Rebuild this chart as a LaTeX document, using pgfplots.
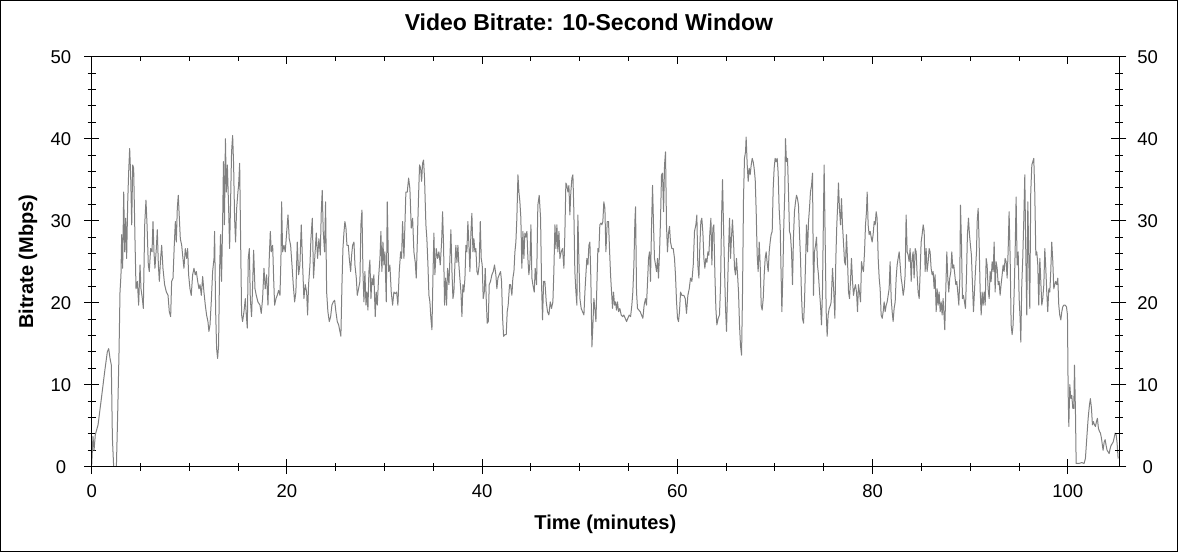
\documentclass[border=0pt]{standalone}
\usepackage{pgfplots}
\pgfplotsset{compat=1.18}
\usepackage{pgfplotstable}
\usepackage{fontspec}
\setmainfont{Liberation Sans}
\definecolor{linegray}{RGB}{128,128,128}
\pgfplotstableread{
t v
0 0.2
0.13 3.7
0.24 2.0
0.37 3.9
0.65 5.1
0.99 8.3
1.33 11.6
1.6 14.0
1.74 14.4
1.88 13.2
2.01 12.4
2.12 3.5
2.25 0
2.53 0
2.66 6.3
2.8 14.0
2.9 21.3
3.0 23.4
3.07 28.3
3.17 24.2
3.28 33.5
3.38 26.2
3.48 30.3
3.58 25.4
3.69 32.3
3.79 36.0
3.89 38.8
3.99 35.6
4.1 29.5
4.2 36.8
4.3 36.4
4.44 27.4
4.54 21.7
4.68 22.6
4.81 19.7
4.95 24.6
5.05 21.7
5.19 20.5
5.29 19.3
5.43 29.5
5.56 32.5
5.67 29.5
5.8 24.6
5.9 23.8
6.04 26.6
6.18 26.2
6.28 29.9
6.38 26.2
6.48 24.2
6.62 26.6
6.72 28.9
6.83 24.6
6.93 22.6
7.06 25.4
7.17 27.0
7.3 24.2
7.47 22.2
7.65 21.3
7.82 20.9
7.95 18.9
8.09 18.3
8.19 22.6
8.33 23.0
8.46 27.0
8.57 29.9
8.67 27.4
8.77 31.5
8.87 33.1
8.98 30.3
9.08 27.8
9.22 27.0
9.35 25.4
9.45 24.2
9.59 26.6
9.73 25.4
9.83 26.6
9.93 23.4
10.07 21.7
10.2 20.9
10.34 23.4
10.48 24.2
10.61 23.4
10.72 23.8
10.86 22.6
10.99 21.7
11.1 22.2
11.23 20.9
11.37 23.2
11.5 21.3
11.64 19.7
11.77 18.5
11.91 17.7
12.01 16.5
12.12 17.3
12.25 20.1
12.39 23.8
12.53 25.4
12.59 28.7
12.7 18.9
12.8 14.4
12.9 13.2
13.0 14.8
13.1 23.8
13.2 28.3
13.3 22.6
13.4 28.7
13.5 37.2
13.6 29.5
13.7 40.0
13.8 33.5
13.9 36.8
14.03 31.5
14.13 26.6
14.23 32.3
14.33 38.4
14.44 40.4
14.54 36.8
14.64 30.3
14.74 27.4
14.85 31.5
14.98 33.5
15.05 34.3
15.16 37.0
15.26 27.4
15.36 18.5
15.46 17.7
15.6 18.9
15.74 20.5
15.84 18.5
15.94 16.9
16.04 25.4
16.15 26.6
16.25 20.5
16.38 18.3
16.49 22.2
16.59 26.4
16.73 21.7
16.86 20.9
17.03 20.1
17.24 19.7
17.37 18.7
17.51 20.5
17.65 24.2
17.78 21.7
17.92 23.4
18.06 19.7
18.19 25.4
18.3 28.7
18.4 26.2
18.54 27.0
18.64 23.0
18.74 19.7
18.88 20.5
19.01 20.9
19.15 21.5
19.29 20.9
19.39 25.4
19.46 32.3
19.56 26.2
19.7 27.0
19.83 26.2
19.97 28.5
20.11 30.7
20.24 27.8
20.38 27.0
20.52 24.6
20.65 22.2
20.79 20.1
20.92 21.3
21.06 27.4
21.2 23.4
21.33 24.6
21.47 29.5
21.61 24.6
21.74 20.5
21.88 22.2
22.02 21.3
22.12 18.5
22.22 22.2
22.36 24.6
22.46 27.8
22.6 30.3
22.73 23.0
22.87 25.8
23.01 28.5
23.14 25.4
23.28 27.8
23.42 25.8
23.52 31.1
23.62 33.7
23.72 28.7
23.86 26.2
23.96 32.3
24.07 21.3
24.2 18.9
24.34 17.7
24.48 18.3
24.61 19.7
24.75 20.1
24.89 20.3
25.02 18.9
25.16 17.7
25.3 17.3
25.43 16.5
25.53 15.9
25.64 22.2
25.74 26.6
25.84 28.5
25.94 29.9
26.05 29.1
26.15 27.0
26.29 27.0
26.39 25.4
26.53 23.8
26.63 25.8
26.73 27.0
26.87 27.4
26.97 24.6
27.11 23.0
27.21 20.9
27.34 21.7
27.48 22.6
27.58 29.5
27.69 31.3
27.79 23.8
27.89 20.1
27.99 23.8
28.1 19.7
28.2 21.3
28.3 19.1
28.4 23.8
28.5 25.2
28.61 20.5
28.71 23.0
28.81 22.2
28.91 23.4
29.05 18.3
29.15 21.3
29.26 19.7
29.39 23.0
29.53 25.4
29.63 28.7
29.73 23.8
29.84 27.4
29.94 24.6
30.04 26.2
30.18 20.1
30.28 32.3
30.42 23.8
30.55 24.6
30.69 21.3
30.83 19.7
30.96 21.3
31.1 21.1
31.24 21.3
31.37 19.7
31.51 23.8
31.65 26.2
31.75 25.4
31.85 29.9
31.99 25.4
32.09 29.5
32.19 33.5
32.33 33.5
32.47 35.2
32.6 33.9
32.74 29.1
32.88 30.3
33.01 26.2
33.15 24.9
33.25 23.0
33.35 27.0
33.49 33.1
33.59 36.8
33.7 36.4
33.8 34.8
33.9 37.0
34.0 37.4
34.1 35.2
34.24 29.5
34.34 27.8
34.45 24.6
34.55 20.9
34.65 20.1
34.75 18.1
34.86 16.7
34.96 23.0
35.06 28.5
35.16 23.4
35.3 26.6
35.44 25.4
35.57 26.2
35.71 24.6
35.85 27.4
35.95 31.1
36.05 27.0
36.15 19.7
36.26 23.0
36.36 19.7
36.46 24.2
36.6 22.2
36.7 25.4
36.8 28.9
36.91 23.8
37.01 20.5
37.11 21.3
37.21 24.6
37.31 27.0
37.42 24.9
37.52 27.0
37.62 24.6
37.72 23.0
37.83 21.3
37.93 18.3
38.03 22.2
38.13 21.3
38.24 23.0
38.34 27.0
38.44 26.2
38.54 29.9
38.65 27.0
38.75 23.8
38.85 28.5
38.95 30.9
39.06 26.2
39.16 27.8
39.26 26.2
39.36 26.6
39.47 23.8
39.57 23.4
39.7 24.6
39.81 29.9
39.91 25.4
40.01 24.6
40.11 20.5
40.22 21.3
40.32 24.2
40.42 20.5
40.52 17.5
40.63 17.7
40.73 22.2
40.86 22.6
41.0 23.4
41.14 23.8
41.27 24.6
41.41 23.4
41.51 21.7
41.62 23.0
41.75 23.4
41.89 23.8
41.99 22.6
42.1 18.1
42.2 15.9
42.33 16.1
42.47 16.1
42.57 18.9
42.67 19.7
42.81 22.2
42.91 22.2
43.05 20.9
43.15 23.0
43.26 23.8
43.36 26.2
43.46 27.4
43.56 30.3
43.67 35.6
43.77 33.5
43.87 32.3
43.97 30.3
44.07 24.2
44.18 28.7
44.28 25.4
44.38 28.5
44.48 28.0
44.59 28.7
44.69 25.4
44.79 23.4
44.9 24.9
45.0 29.5
45.1 23.0
45.2 22.2
45.34 21.3
45.44 24.2
45.58 22.2
45.71 31.9
45.85 33.1
45.99 30.3
46.09 22.2
46.19 17.9
46.3 22.6
46.43 22.6
46.57 20.1
46.7 18.9
46.84 18.5
46.98 20.1
47.11 19.3
47.25 20.1
47.35 23.8
47.46 29.5
47.56 26.6
47.66 29.5
47.76 26.2
47.87 28.7
47.97 25.4
48.1 26.2
48.24 26.6
48.38 24.2
48.48 28.5
48.58 34.6
48.68 34.3
48.79 33.5
48.89 34.3
48.99 30.7
49.09 33.5
49.2 35.2
49.3 35.6
49.4 31.1
49.5 23.8
49.61 21.3
49.71 19.7
49.81 30.7
49.91 25.4
50.02 20.5
50.15 19.3
50.29 18.9
50.43 18.5
50.53 21.3
50.63 23.4
50.73 25.4
50.84 24.6
50.94 27.0
51.04 27.4
51.14 23.0
51.25 14.6
51.35 17.3
51.45 20.5
51.55 19.3
51.66 17.7
51.76 22.2
51.86 26.6
51.96 26.2
52.06 29.5
52.17 29.7
52.27 29.5
52.37 29.9
52.47 32.3
52.58 31.5
52.68 26.2
52.82 29.9
52.95 29.9
53.05 26.6
53.16 23.4
53.26 21.3
53.36 19.3
53.46 21.3
53.57 19.7
53.67 20.1
53.77 19.1
53.87 20.1
53.98 18.9
54.11 19.3
54.25 18.5
54.39 18.3
54.52 18.5
54.66 18.1
54.8 17.7
54.93 18.1
55.07 18.5
55.21 18.3
55.34 19.7
55.44 21.3
55.55 24.6
55.65 29.9
55.72 31.7
55.82 21.3
55.92 19.3
56.06 19.1
56.2 18.9
56.33 18.5
56.47 18.1
56.6 19.7
56.74 20.5
56.84 19.7
56.95 22.6
57.05 25.4
57.15 26.2
57.25 22.6
57.36 29.5
57.46 34.3
57.56 29.5
57.66 25.4
57.77 24.6
57.87 23.8
57.97 25.4
58.07 23.0
58.18 26.2
58.28 30.3
58.38 35.6
58.48 35.8
58.59 31.1
58.69 36.8
58.79 38.4
58.89 29.5
58.99 26.2
59.1 28.5
59.2 29.3
59.3 27.4
59.44 26.6
59.58 26.6
59.71 25.4
59.81 23.4
59.92 20.1
60.02 18.1
60.12 17.7
60.22 18.9
60.33 21.3
60.46 20.9
60.67 20.9
60.81 20.5
60.94 18.7
61.08 20.9
61.22 21.7
61.35 23.0
61.49 22.6
61.63 24.6
61.76 28.7
61.9 29.5
62.0 30.7
62.1 24.6
62.21 23.0
62.31 27.0
62.41 29.9
62.51 30.3
62.62 28.5
62.72 25.4
62.82 24.2
62.92 25.4
63.03 24.9
63.13 26.2
63.23 25.8
63.33 28.5
63.44 30.3
63.54 24.6
63.64 29.1
63.74 29.5
63.85 23.4
63.95 19.3
64.05 17.3
64.19 18.1
64.32 18.5
64.43 22.2
64.53 30.3
64.63 35.0
64.73 29.5
64.84 23.8
64.94 19.3
65.04 16.5
65.14 21.3
65.25 26.6
65.35 30.3
65.45 25.4
65.55 28.0
65.65 30.1
65.76 27.4
65.86 24.2
65.96 23.4
66.06 25.4
66.17 23.4
66.27 21.3
66.37 17.3
66.47 14.8
66.58 13.6
66.68 21.3
66.78 32.7
66.88 37.6
66.99 38.4
67.05 40.2
67.16 36.8
67.26 34.8
67.36 36.4
67.46 35.6
67.57 36.8
67.67 37.6
67.77 37.2
67.87 36.4
67.98 35.0
68.08 31.1
68.18 25.8
68.28 23.8
68.39 27.4
68.49 24.6
68.59 19.7
68.69 19.1
68.8 20.5
68.9 23.4
69.0 25.4
69.1 26.2
69.2 24.9
69.31 23.8
69.41 26.2
69.51 27.4
69.61 28.3
69.72 28.7
69.82 33.9
69.92 36.4
70.02 37.6
70.13 37.2
70.23 37.6
70.33 35.8
70.43 31.5
70.54 29.1
70.64 23.0
70.71 18.9
70.81 23.4
70.91 29.5
71.01 33.5
71.08 40.0
71.18 37.2
71.29 37.6
71.39 33.5
71.49 28.7
71.59 28.3
71.7 26.2
71.8 22.2
71.9 28.0
72.0 31.1
72.11 32.3
72.21 33.1
72.31 32.7
72.41 31.9
72.52 28.3
72.62 25.4
72.72 20.9
72.82 18.1
72.93 17.5
73.03 20.1
73.13 24.6
73.23 29.5
73.34 26.2
73.44 29.9
73.54 31.5
73.64 33.5
73.75 34.3
73.85 35.8
73.95 20.9
74.05 26.2
74.16 27.0
74.26 28.0
74.36 24.6
74.46 23.4
74.57 21.3
74.67 19.7
74.77 17.3
74.87 21.3
74.97 30.7
75.04 36.8
75.15 27.4
75.25 18.9
75.35 15.9
75.45 18.5
75.56 19.3
75.69 19.7
75.76 20.1
75.9 24.2
76.03 21.3
76.14 18.1
76.24 25.4
76.34 29.5
76.44 32.3
76.51 34.6
76.61 31.5
76.72 29.5
76.82 32.7
76.92 29.5
77.02 27.4
77.13 25.0
77.23 24.6
77.33 28.3
77.43 25.4
77.54 21.3
77.64 20.5
77.74 22.6
77.84 25.4
77.95 22.6
78.05 20.9
78.15 21.7
78.25 22.2
78.36 21.3
78.46 18.9
78.56 22.2
78.66 21.3
78.77 20.1
78.87 25.0
78.97 24.2
79.07 23.8
79.18 26.2
79.28 29.5
79.38 31.1
79.45 33.5
79.55 29.5
79.65 28.3
79.76 28.7
79.86 28.0
79.96 27.4
80.06 28.3
80.17 29.9
80.27 29.5
80.37 31.1
80.47 30.3
80.58 25.4
80.68 23.0
80.78 21.7
80.88 18.5
80.99 18.1
81.09 18.9
81.19 20.1
81.29 18.9
81.4 19.7
81.5 20.1
81.6 20.9
81.7 21.7
81.8 25.0
81.91 20.5
82.01 18.9
82.11 17.7
82.21 19.3
82.32 20.1
82.42 23.0
82.52 24.6
82.62 25.4
82.73 26.2
82.83 24.6
82.93 23.0
83.03 22.2
83.14 20.9
83.24 21.7
83.34 23.4
83.44 30.7
83.55 26.2
83.65 25.8
83.75 25.0
83.85 26.6
83.96 22.6
84.06 25.4
84.16 26.2
84.26 23.0
84.37 26.6
84.47 26.2
84.57 23.4
84.67 21.3
84.78 20.5
84.88 23.8
84.98 27.4
85.08 28.3
85.19 29.5
85.29 28.7
85.39 23.8
85.49 26.6
85.59 23.8
85.7 25.0
85.8 26.6
85.9 26.2
86.0 24.2
86.11 23.4
86.21 23.8
86.31 21.7
86.41 23.4
86.52 18.9
86.62 21.7
86.72 19.7
86.82 21.3
86.93 18.9
87.03 20.1
87.13 18.5
87.23 20.5
87.34 18.1
87.4 16.7
87.5 21.3
87.61 26.2
87.71 23.0
87.81 21.3
87.91 23.0
88.02 23.8
88.12 26.2
88.22 24.2
88.32 24.6
88.43 23.4
88.53 22.2
88.63 22.6
88.73 21.3
88.84 19.7
88.94 23.0
89.01 31.9
89.11 27.4
89.21 20.5
89.31 20.9
89.42 20.1
89.52 19.3
89.62 23.0
89.72 28.3
89.83 30.3
89.93 28.3
90.03 27.0
90.13 25.8
90.24 22.2
90.34 18.9
90.44 21.3
90.54 23.8
90.65 26.2
90.72 29.9
90.82 31.5
90.92 27.4
91.02 21.7
91.13 18.5
91.23 21.3
91.33 19.7
91.43 21.3
91.54 19.7
91.64 25.4
91.74 24.6
91.84 21.7
91.95 20.5
92.05 23.8
92.15 22.6
92.25 25.0
92.36 23.8
92.46 27.4
92.56 21.3
92.66 25.0
92.77 24.2
92.87 22.2
92.97 22.6
93.07 20.9
93.17 22.2
93.28 23.4
93.38 24.6
93.48 23.8
93.58 25.4
93.69 25.0
93.79 23.0
93.89 26.2
93.99 31.1
94.1 25.4
94.2 17.3
94.3 16.1
94.4 17.3
94.51 21.3
94.61 26.2
94.71 32.9
94.81 24.6
94.92 26.2
95.02 20.5
95.12 18.1
95.19 15.2
95.29 22.2
95.39 25.4
95.5 30.3
95.6 35.6
95.7 26.2
95.8 18.5
95.91 32.3
96.01 25.4
96.11 19.3
96.21 33.5
96.32 36.8
96.42 37.2
96.52 37.6
96.62 33.5
96.73 25.8
96.83 26.2
96.93 24.6
97.03 19.7
97.14 25.4
97.24 22.6
97.34 19.7
97.44 20.5
97.55 22.2
97.65 26.6
97.75 24.2
97.85 21.3
97.95 18.9
98.06 21.7
98.16 21.3
98.26 23.8
98.36 27.4
98.47 25.0
98.57 21.7
98.67 22.2
98.77 22.6
98.88 22.2
98.98 23.0
99.08 19.7
99.18 18.5
99.29 17.9
99.39 18.9
99.49 19.5
99.59 19.7
99.73 19.7
99.87 19.5
99.97 18.5
100.04 9.1
100.11 4.9
100.21 10.0
100.31 8.3
100.41 8.7
100.52 7.1
100.62 7.1
100.69 12.4
100.79 6.7
100.86 0.4
101.16 0.4
101.44 0.5
101.67 0.4
101.81 1.0
101.95 3.5
102.09 5.9
102.22 7.5
102.32 8.3
102.43 7.1
102.53 5.1
102.63 5.5
102.74 5.1
102.84 4.9
102.94 5.5
103.04 5.9
103.14 4.7
103.25 4.3
103.35 4.1
103.45 3.5
103.55 2.6
103.62 2.0
103.73 3.0
103.83 3.3
103.93 2.6
104.03 2.0
104.14 1.8
104.24 1.6
104.34 2.2
104.44 2.6
104.55 2.8
104.65 3.0
104.75 3.5
104.85 4.1
104.96 3.9
105.06 2.8
105.16 1.0
}\bitrate
\pgfplotsset{
  base/.style={
    scale only axis, width=1027.3pt, height=410pt,
    at={(91.7pt,85.3pt)}, anchor=south west,
    xmin=0, xmax=105.25, ymin=0, ymax=50,
    axis line style={black, line width=0.9pt},
    every tick/.style={black, line width=0.9pt},
    /pgf/number format/assume math mode=true,
    tick label style={font=\fontsize{18.5}{22}\selectfont},
    xtick={0,20,...,100}, minor x tick num=3,
    ytick={0,10,...,50}, minor y tick num=4,
  }
}
\begin{document}
\begin{tikzpicture}
\draw[black, line width=1pt] (0.5pt,0.5pt) rectangle (1177.5pt,551.5pt);
% main axis with data: left/bottom ticks
\begin{axis}[base,
  tick align=center, major tick length=15pt, minor tick length=8pt,
  xtick pos=bottom, ytick pos=left,
  yticklabel style={anchor=center, xshift=-23.2pt},
  xticklabel style={anchor=center, yshift=-17.3pt},
  title={Video Bitrate: 10-Second Window},
  title style={font=\fontsize{23}{26}\bfseries, at={(axis description cs:0.484,1.07)}, anchor=center},
  xlabel={Time (minutes)},
  xlabel style={font=\fontsize{20}{24}\bfseries, at={(axis description cs:0.5,-0.1398)}, anchor=center},
  ylabel={Bitrate (Mbps)},
  ylabel style={font=\fontsize{20}{24}\bfseries, at={(axis description cs:-0.062,0.5)}, anchor=center, rotate=0},
]
\addplot[linegray, line width=1pt, line join=round] table[x=t, y=v] {\bitrate};
\end{axis}
% right ticks with labels
\begin{axis}[base,
  tick align=center, major tick length=15pt, minor tick length=8pt,
  xtick=\empty, minor x tick num=0,
  ytick pos=right, yticklabel pos=right,
  yticklabel style={anchor=center, xshift=21.2pt},
]
\end{axis}
% top ticks, inside
\begin{axis}[base,
  tick align=inside, major tick length=7.5pt, minor tick length=4pt,
  ytick=\empty, minor y tick num=0,
  xtick pos=top, xticklabels={},
]
\end{axis}
\end{tikzpicture}
\end{document}
